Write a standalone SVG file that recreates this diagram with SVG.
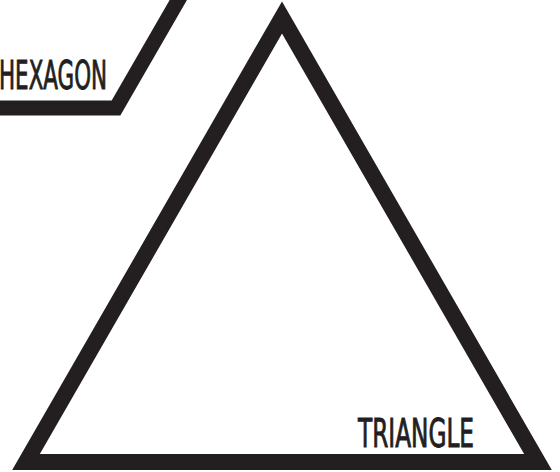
<svg xmlns="http://www.w3.org/2000/svg" width="560" height="472" viewBox="0 0 560 472">
<style>
.shape{fill:#fff;stroke:#231f20;stroke-linejoin:miter;stroke-miterlimit:10}
.lbl{font-family:"DejaVu Sans Condensed","Liberation Sans Narrow","Liberation Sans",sans-serif;font-size:39px;fill:#231f20;stroke:#231f20;stroke-width:0.9px}
</style>
<rect width="560" height="472" fill="#fff"/>
<g id="hexagon">
<polygon class="shape" stroke-width="15" points="236,-100 116,108 -124,108 -244,-100 -124,-308 116,-308"/>
<text class="lbl" x="-1" y="89" textLength="108" lengthAdjust="spacingAndGlyphs">HEXAGON</text>
</g>
<g id="triangle">
<polygon class="shape" stroke-width="16" points="282,17.5 26,462 538,462"/>
<text class="lbl" x="358" y="447" font-size="40" textLength="116" lengthAdjust="spacingAndGlyphs">TRIANGLE</text>
</g>
<g id="connectors"/>
</svg>
